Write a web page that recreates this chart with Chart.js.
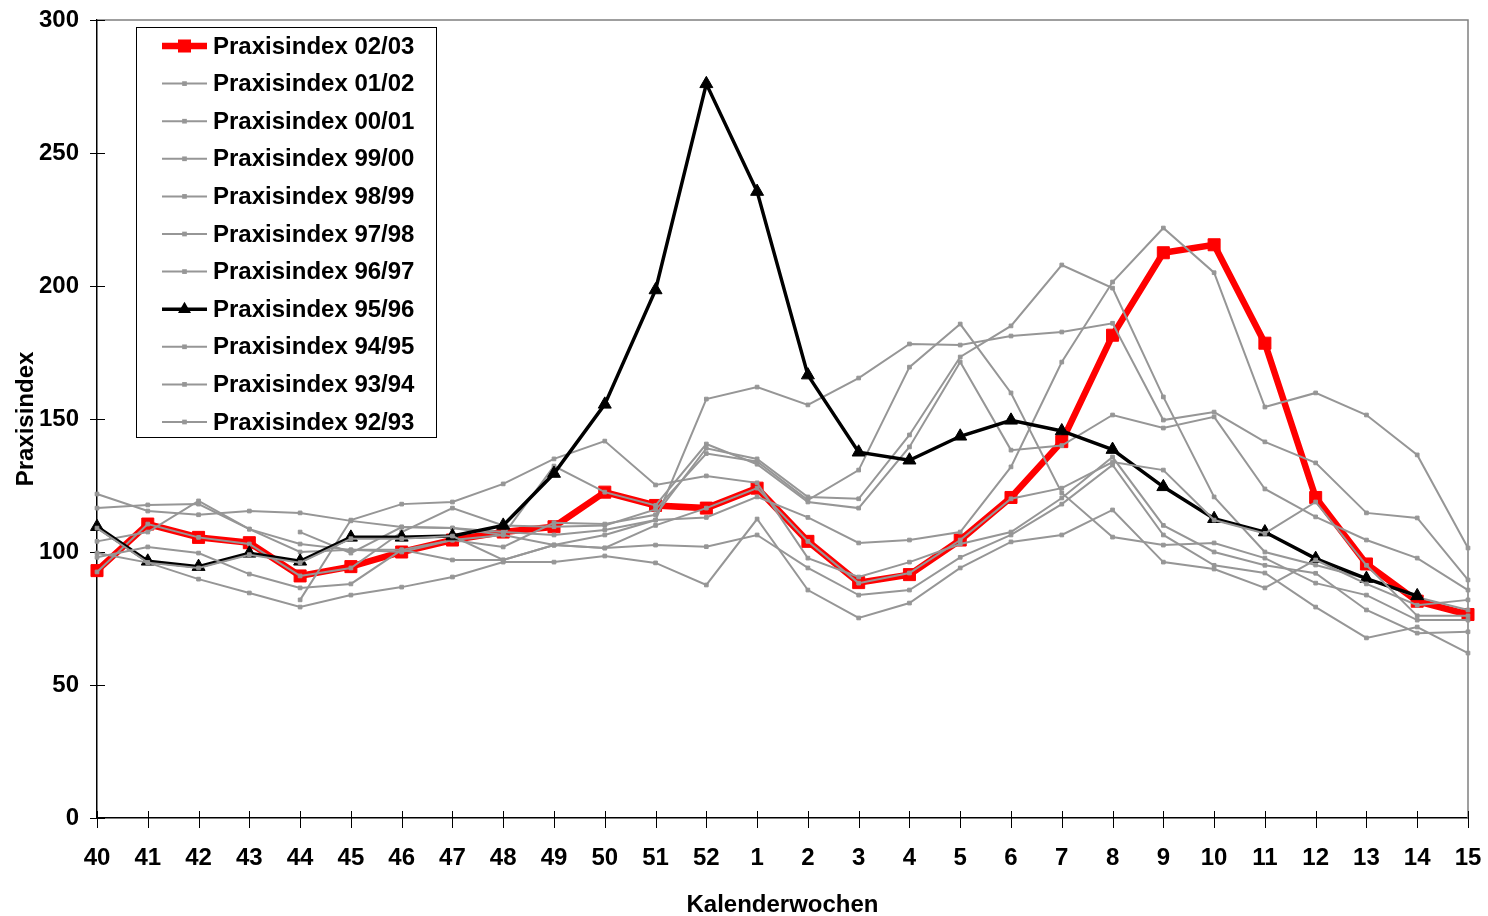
<!DOCTYPE html>
<html>
<head>
<meta charset="utf-8">
<title>Praxisindex</title>
<script src="https://cdn.jsdelivr.net/npm/chart.js@4.4.0/dist/chart.umd.min.js"></script>
<style>
  body { margin: 0; background: #fff; }
  #wrap { width: 1488px; height: 916px; }
</style>
</head>
<body>
<div id="wrap"><canvas id="chart" width="1488" height="916"></canvas></div>
<script>
// Kalenderwochen 40..52, 1..15
const weeks = ["40","41","42","43","44","45","46","47","48","49","50","51","52",
               "1","2","3","4","5","6","7","8","9","10","11","12","13","14","15"];

const yTicks = { min: 0, max: 300, step: 50 };

// current season (red) and 95/96 (black)
const idx0203 = [93, 110.5, 105.5, 103.5, 91, 94.5, 100, 104.5, 107.5, 109.5, 122.5, 117.5, 116.5,
                 124, 104, 88.5, 91.5, 104.5, 120.5, 141.5, 181.5, 212.5, 215.5, 178.5, 120.5, 95.5, 81.5, 76.5];
const idx9596 = [109.5, 96.5, 94.5, 99.5, 96.5, 105.5, 105.5, 106, 110, 129.5, 155.5, 198.5, 276,
                 235.5, 166.5, 137.5, 134.5, 143.5, 149.5, 145.5, 138.5, 124.5, 112.5, 107.5, 97.5, 90, 83.5, null];

// older seasons (grey)
const idx0102 = [121.8, 115.4, 114, 115.4, 114.7, 111.7, 109.4, 109, 107.5, 106.4, 108.3, 112, 113,
                 120.7, 113, 103.4, 104.5, 107.5, 132, 171.4, 201.5, 221.8, 205, 154.5, 159.8, 151.5, 136.5, 101.5];
const idx0001 = [116.5, 117.7, 118, 108.6, 103, 100.8, 100.8, 104.5, 101.9, 111, 110.5, 114, 139,
                 135, 120.7, 120, 144, 173.3, 185, 207.9, 199.2, 158.3, 120.7, 100, 95.1, 90, 83, 78.2];
const idx9900 = [null, null, null, null, 107.5, 99.6, 109.4, 109, 106.4, 102.6, 106.4, 112, 157.5,
                 162, 155.3, 165.4, 178.2, 177.8, 181.2, 182.7, 186, 149.6, 152.6, 141.4, 133.5, 114.7, 112.8, 89.5];
const idx9899 = [92.5, 110.5, 105.5, 103, 91, 94, 107.5, 116.5, 110, 109.5, 110, 116, 137,
                 134, 119.5, 130.8, 169.5, 185.7, 159.8, 122.2, 105.6, 102.6, 103.4, 97.7, 88.3, 83.8, 74.4, 74.4];
const idx9798 = [104, 107.5, 119.2, 108.6, 100, 100.8, 100, 104.5, 106.4, 132.3, 122.5, 117.5, 140.6,
                 133, 118.8, 116.5, 139.5, 171.4, 138.3, 140, 151.5, 146.6, 150.8, 123.7, 113.2, 104.5, 97.7, 85.7];
const idx9697 = [null, null, null, null, 82, 112, 118, 118.8, 125.6, 135, 141.7, 125.2, 128.6,
                 126, 97.7, 90.6, 96.2, 103, 107.5, 120.3, 135.7, 110, 100, 95, 92, 78.2, 69.5, 70];
const idx9495 = [109, 96, 94, 99, 96, 105, 105, 106, 97, 102.6, 101.5, 110, 116.5,
                 124, 104, 88.3, 92.1, 104.5, 120, 124, 133.8, 130.8, 112, 107, 118.8, 95, 76, 76];
const idx9394 = [98, 101.9, 99.6, 91.7, 86.5, 88, 100.8, 97, 97, 102.6, 101.5, 102.6, 102,
                 106.4, 94, 83.8, 85.7, 98, 106.4, 118, 132.7, 106.4, 95, 92.1, 79.3, 67.7, 71.8, 62];
const idx9293 = [99.6, 96, 89.8, 84.6, 79.3, 83.8, 86.8, 90.6, 96.2, 96.2, 98.5, 95.9, 87.6,
                 112.4, 85.7, 75.2, 80.8, 94, 103.8, 106.4, 115.8, 96.2, 93.6, 86.5, 97, 88, 80, 82];

const seasons = ["Praxisindex 02/03", "Praxisindex 01/02", "Praxisindex 00/01", "Praxisindex 99/00",
                 "Praxisindex 98/99", "Praxisindex 97/98", "Praxisindex 96/97", "Praxisindex 95/96",
                 "Praxisindex 94/95", "Praxisindex 93/94", "Praxisindex 92/93"];
const seasonData = [idx0203, idx0102, idx0001, idx9900, idx9899, idx9798, idx9697, idx9596, idx9495, idx9394, idx9293];

const FONT = '"Liberation Sans", Arial, sans-serif';
const GREY = "#969696";

function styleFor(i) {
    if (i === 0) return { color: "#ff0000", width: 6.5, point: "rect", radius: 8.5, pborder: 1 };
    if (i === 7) return { color: "#000000", width: 3.5, point: "triangle", radius: 7.5, pborder: 1 };
    return { color: GREY, width: 2, point: "rect", radius: 2.6, pborder: 1 };
}

const datasets = seasons.map((label, i) => {
    const s = styleFor(i);
    return {
        label: label,
        data: seasonData[i],
        borderColor: s.color,
        backgroundColor: s.color,
        borderWidth: s.width,
        pointStyle: s.point,
        pointRadius: s.radius,
        pointBorderWidth: s.pborder,
        pointBackgroundColor: s.color,
        pointBorderColor: s.color,
        tension: 0,
        order: -i // later series drawn on top, like the original
    };
});

// grey top/right frame of the plot area
const plotFrame = {
    id: "plotFrame",
    beforeDatasetsDraw(chart) {
        const a = chart.chartArea, ctx = chart.ctx;
        ctx.save();
        ctx.strokeStyle = "#808080";
        ctx.lineWidth = 1.5;
        ctx.beginPath();
        ctx.moveTo(a.left, a.top);
        ctx.lineTo(a.right, a.top);
        ctx.lineTo(a.right, a.bottom);
        ctx.stroke();
        ctx.restore();
    }
};

// tick marks crossing the axes (the library's own ticks are kept invisible for spacing)
const crossTicks = {
    id: "crossTicks",
    beforeDatasetsDraw(chart) {
        const ctx = chart.ctx, x = chart.scales.x, y = chart.scales.y;
        ctx.save();
        ctx.strokeStyle = "#000";
        ctx.lineWidth = 1;
        ctx.beginPath();
        x.ticks.forEach((t, i) => {
            const px = Math.round(x.getPixelForTick(i)) + 0.5;
            ctx.moveTo(px, y.bottom - 7);
            ctx.lineTo(px, y.bottom + 10);
        });
        y.ticks.forEach((t, i) => {
            const py = Math.round(y.getPixelForTick(i)) + 0.5;
            ctx.moveTo(x.left - 7, py);
            ctx.lineTo(x.left + 8, py);
        });
        ctx.stroke();
        ctx.restore();
    }
};

function marker(ctx, style, x, y, r, color) {
    ctx.fillStyle = color;
    ctx.beginPath();
    if (style === "triangle") {
        ctx.moveTo(x, y - r);
        ctx.lineTo(x + r * 0.866, y + r * 0.5);
        ctx.lineTo(x - r * 0.866, y + r * 0.5);
        ctx.closePath();
    } else {
        const s = r * Math.SQRT1_2 + 0.5;
        ctx.rect(x - s, y - s, 2 * s, 2 * s);
    }
    ctx.fill();
}

// legend box inside the plot, top left
const legendBox = {
    id: "legendBox",
    afterDatasetsDraw(chart) {
        const ctx = chart.ctx;
        const bx = 136, by = 27, bw = 300, bh = 410, row = 37.6;
        ctx.save();
        ctx.fillStyle = "#fff";
        ctx.fillRect(bx, by, bw, bh);
        ctx.strokeStyle = "#000";
        ctx.lineWidth = 1;
        ctx.strokeRect(bx + 0.5, by + 0.5, bw, bh);
        ctx.font = "bold 24px " + FONT;
        ctx.textBaseline = "middle";
        chart.data.datasets.forEach((ds, i) => {
            const yy = 46 + i * row;
            ctx.strokeStyle = ds.borderColor;
            ctx.lineWidth = ds.borderWidth;
            ctx.beginPath();
            ctx.moveTo(162, yy);
            ctx.lineTo(207, yy);
            ctx.stroke();
            marker(ctx, ds.pointStyle, 184.5, yy, ds.pointRadius, ds.pointBackgroundColor);
            ctx.fillStyle = "#000";
            ctx.fillText(ds.label, 213, yy + 1);
        });
        ctx.restore();
    }
};

new Chart(document.getElementById("chart"), {
    type: "line",
    data: { labels: weeks, datasets: datasets },
    plugins: [plotFrame, crossTicks, legendBox],
    options: {
        responsive: false,
        animation: false,
        events: [],
        layout: { padding: { left: 0, right: 20, top: 20, bottom: 0 } },
        plugins: {
            legend: { display: false },
            tooltip: { enabled: false }
        },
        scales: {
            x: {
                offset: false,
                grid: { drawOnChartArea: false, drawTicks: true, tickLength: 22, tickColor: "rgba(0,0,0,0)" },
                border: { color: "#000", width: 1.5 },
                ticks: { color: "#000", font: { family: FONT, size: 24, weight: "bold" }, padding: 4, maxRotation: 0, autoSkip: false },
                title: { display: true, text: "Kalenderwochen", color: "#000",
                         font: { family: FONT, size: 24, weight: "bold" }, padding: { top: 0, bottom: -4 } },
                afterFit(scale) { scale.height = 98; }
            },
            y: {
                min: yTicks.min,
                max: yTicks.max,
                grid: { drawOnChartArea: false, drawTicks: true, tickLength: 14, tickColor: "rgba(0,0,0,0)" },
                border: { color: "#000", width: 1.5 },
                ticks: { stepSize: yTicks.step, color: "#000", font: { family: FONT, size: 24, weight: "bold" }, padding: 4 },
                title: { display: true, text: "Praxisindex", color: "#000",
                         font: { family: FONT, size: 24, weight: "bold" }, padding: { top: 12, bottom: 0 } },
                afterFit(scale) { scale.width = 97; }
            }
        }
    }
});
</script>
</body>
</html>
